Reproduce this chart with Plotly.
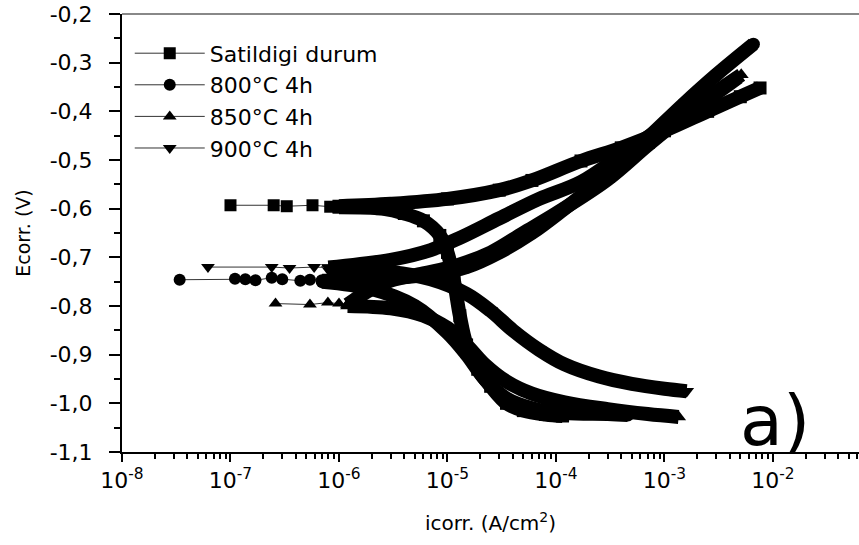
import plotly.graph_objects as go

# ---------------- data ----------------
series_names = ["Satildigi durum", "800°C 4h", "850°C 4h", "900°C 4h"]
series_symbols = ["square", "circle", "triangle-up", "triangle-down"]

# Satildigi durum (squares)
sq_sparse_i = [1.0e-7, 2.5e-7, 3.3e-7, 5.7e-7, 8.3e-7, 1.0e-6]
sq_sparse_e = [-0.593, -0.593, -0.595, -0.593, -0.596, -0.595]
sq_anod_i = [1.0e-6, 3e-6, 1e-5, 3e-5, 6e-5, 1.7e-4, 4e-4, 1e-3, 2.5e-3, 5e-3, 7.6e-3]
sq_anod_e = [-0.595, -0.59, -0.58, -0.562, -0.542, -0.502, -0.475, -0.44, -0.40, -0.37, -0.352]
sq_cath_i = [1.0e-6, 2.5e-6, 4e-6, 6e-6, 8.5e-6, 1.0e-5, 1.15e-5, 1.3e-5, 1.5e-5, 1.9e-5,
             2.5e-5, 3.5e-5, 5e-5, 8e-5, 1.15e-4]
sq_cath_e = [-0.597, -0.60, -0.61, -0.625, -0.655, -0.69, -0.75, -0.82, -0.88, -0.93,
             -0.965, -1.0, -1.015, -1.023, -1.026]

# 800°C 4h (circles)
ci_sparse_i = [3.4e-8, 1.1e-7, 1.37e-7, 1.7e-7, 2.4e-7, 3.0e-7, 4.4e-7, 5.4e-7, 7e-7]
ci_sparse_e = [-0.746, -0.744, -0.745, -0.747, -0.742, -0.745, -0.748, -0.746, -0.748]
ci_anod_i = [7e-7, 1.5e-6, 3e-6, 7e-6, 1.5e-5, 3e-5, 6e-5, 1.2e-4, 3e-4, 7e-4, 1.5e-3, 3e-3, 6.6e-3]
ci_anod_e = [-0.748, -0.747, -0.743, -0.735, -0.72, -0.69, -0.65, -0.60, -0.53, -0.455, -0.385, -0.325, -0.262]
ci_cath_i = [7e-7, 2e-6, 5e-6, 1e-5, 1.5e-5, 2.2e-5, 3.5e-5, 6e-5, 1.2e-4, 3e-4, 4.6e-4]
ci_cath_e = [-0.75, -0.765, -0.80, -0.855, -0.90, -0.95, -0.99, -1.01, -1.02, -1.022, -1.024]

# 850°C 4h (triangles up)
tu_sparse_i = [2.6e-7, 5.4e-7, 7.9e-7, 1.0e-6, 1.2e-6]
tu_sparse_e = [-0.795, -0.797, -0.793, -0.795, -0.797]
tu_anod_i = [1.2e-6, 2e-6, 3e-6, 6e-6, 1.2e-5, 2.5e-5, 5e-5, 1e-4, 3e-4, 7e-4, 1.5e-3, 3e-3, 5.1e-3]
tu_anod_e = [-0.797, -0.765, -0.748, -0.733, -0.717, -0.69, -0.65, -0.61, -0.54, -0.47, -0.41, -0.36, -0.325]
tu_cath_i = [1.2e-6, 3e-6, 6e-6, 1e-5, 1.5e-5, 2.2e-5, 3.5e-5, 6e-5, 1.2e-4, 3e-4, 7e-4, 1.35e-3]
tu_cath_e = [-0.80, -0.805, -0.82, -0.845, -0.88, -0.92, -0.955, -0.98, -0.998, -1.012, -1.022, -1.028]

# 900°C 4h (triangles down)
td_sparse_i = [6.2e-8, 2.4e-7, 3.5e-7, 5.9e-7, 8e-7]
td_sparse_e = [-0.72, -0.72, -0.722, -0.72, -0.721]
td_anod_i = [8e-7, 3e-6, 7e-6, 1.3e-5, 3e-5, 7e-5, 1.7e-4, 4e-4, 1e-3, 2.5e-3, 4.8e-3]
td_anod_e = [-0.721, -0.705, -0.685, -0.66, -0.62, -0.58, -0.545, -0.49, -0.43, -0.375, -0.33]
td_cath_i = [8e-7, 3e-6, 7e-6, 1.5e-5, 2.5e-5, 4e-5, 7e-5, 1.2e-4, 2.5e-4, 5e-4, 1e-3, 1.6e-3]
td_cath_e = [-0.725, -0.73, -0.745, -0.775, -0.81, -0.85, -0.89, -0.92, -0.945, -0.96, -0.97, -0.975]

x_tick_vals = [1e-8, 1e-7, 1e-6, 1e-5, 1e-4, 1e-3, 1e-2]
x_tick_text = ["10<sup>-8</sup>", "10<sup>-7</sup>", "10<sup>-6</sup>", "10<sup>-5</sup>",
               "10<sup>-4</sup>", "10<sup>-3</sup>", "10<sup>-2</sup>"]
y_tick_vals = [-1.1, -1.0, -0.9, -0.8, -0.7, -0.6, -0.5, -0.4, -0.3, -0.2]
y_tick_text = ["-1,1", "-1,0", "-0,9", "-0,8", "-0,7", "-0,6", "-0,5", "-0,4", "-0,3", "-0,2"]

# ---------------- figure ----------------
FONT = "DejaVu Sans"
fig = go.Figure()

groups = [
    (sq_sparse_i, sq_sparse_e, sq_anod_i, sq_anod_e, sq_cath_i, sq_cath_e),
    (ci_sparse_i, ci_sparse_e, ci_anod_i, ci_anod_e, ci_cath_i, ci_cath_e),
    (tu_sparse_i, tu_sparse_e, tu_anod_i, tu_anod_e, tu_cath_i, tu_cath_e),
    (td_sparse_i, td_sparse_e, td_anod_i, td_anod_e, td_cath_i, td_cath_e),
]

for name, sym, (si, se, ai, ae, ci, ce) in zip(series_names, series_symbols, groups):
    for bi, be in ((ai, ae), (ci, ce)):
        fig.add_trace(go.Scatter(
            x=bi, y=be, mode="lines+markers", showlegend=False,
            line=dict(color="black", width=14, shape="spline", smoothing=1),
            marker=dict(symbol=sym, size=13, color="black"),
            hoverinfo="skip"))
    fig.add_trace(go.Scatter(
        x=si, y=se, mode="lines+markers", showlegend=False,
        line=dict(color="#333333", width=1),
        marker=dict(symbol=sym, size=12, color="black"),
        hoverinfo="skip"))
    # legend entry
    fig.add_trace(go.Scatter(
        x=[None], y=[None], mode="lines+markers", name=name, legendgroup=name,
        line=dict(color="#333333", width=1),
        marker=dict(symbol=sym, size=12, color="black")))

minor_x = [m * 10.0 ** e for e in range(-8, -1) for m in range(2, 10)]

fig.update_layout(
    width=859, height=545,
    margin=dict(l=122, r=0, t=14, b=93),
    paper_bgcolor="white", plot_bgcolor="white",
    font=dict(family=FONT, color="black", size=20),
    showlegend=True,
    legend=dict(x=0.0105, y=0.958, xanchor="left", yanchor="top",
                bgcolor="rgba(0,0,0,0)", font=dict(size=22, family=FONT),
                itemwidth=70, tracegroupgap=0),
    xaxis=dict(type="log", range=[-8, -1.207], showgrid=False, zeroline=False,
               automargin=False,
               showline=True, linecolor="black", linewidth=2,
               ticks="outside", ticklen=8, tickwidth=2, tickcolor="black",
               tickvals=x_tick_vals, ticktext=x_tick_text,
               tickfont=dict(size=22, family=FONT),
               minor=dict(ticks="outside", ticklen=5, tickwidth=2, tickcolor="black",
                          tickvals=minor_x, showgrid=False),
               title=dict(text="icorr. (A/cm<sup>2</sup>)", font=dict(size=20, family=FONT),
                          standoff=24)),
    yaxis=dict(range=[-1.1, -0.2], showgrid=False, zeroline=False,
               automargin=False,
               showline=True, linecolor="black", linewidth=2,
               ticks="outside", ticklen=11, tickwidth=2, tickcolor="black",
               tickvals=y_tick_vals, ticktext=y_tick_text,
               tickfont=dict(size=22, family=FONT), ticklabelstandoff=12,
               minor=dict(ticks="outside", ticklen=6, tickwidth=2, tickcolor="black",
                          dtick=0.05, showgrid=False),
               title=dict(text="Ecorr. (V)", font=dict(size=19, family=FONT),
                          standoff=14)),
    shapes=[dict(type="line", xref="paper", yref="paper", x0=0, x1=1, y0=1, y1=1,
                 line=dict(color="#888888", width=2))],
    annotations=[dict(text="a)", xref="paper", yref="paper", x=0.886, y=0.07,
                      xanchor="center", yanchor="middle", showarrow=False,
                      font=dict(size=70, family=FONT, color="black"))],
)

fig.write_html("out.html", config={"displayModeBar": False},
               post_script="document.body.style.margin='0';document.body.style.overflow='hidden';")
